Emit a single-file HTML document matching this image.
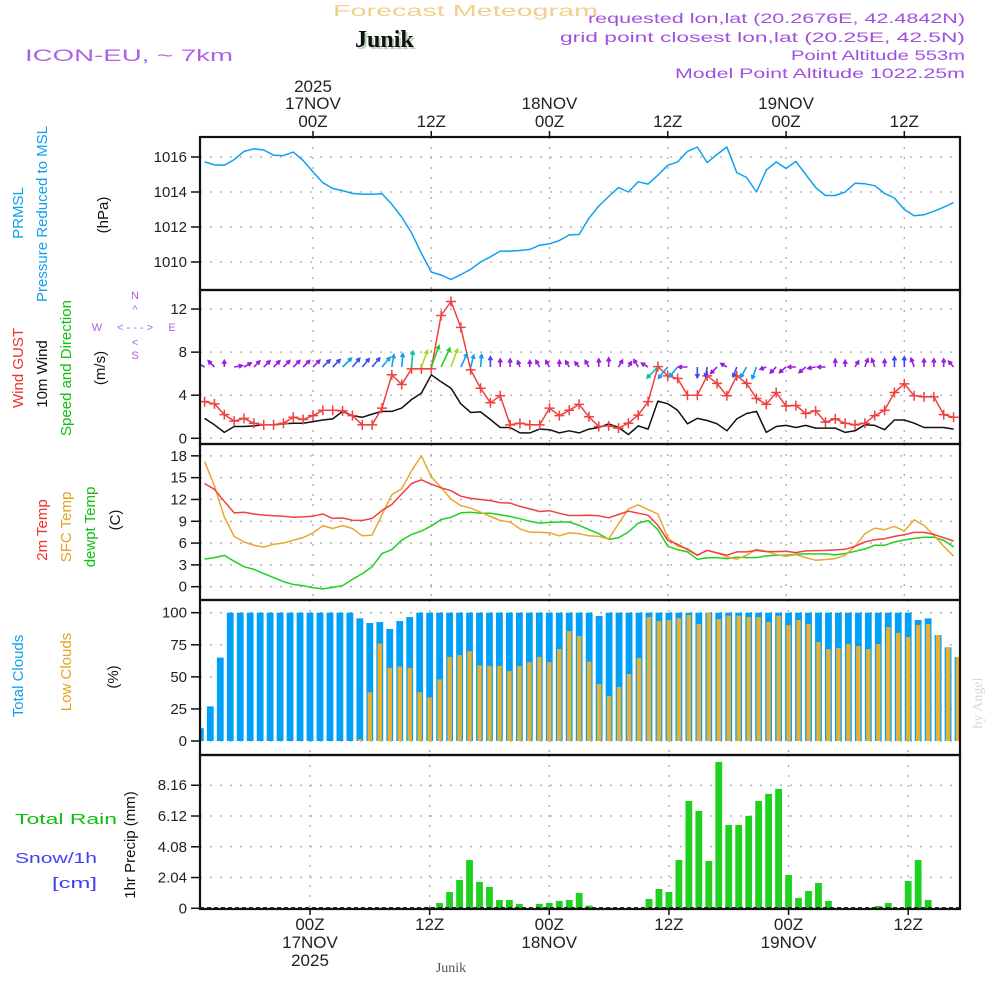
<!DOCTYPE html>
<html><head><meta charset="utf-8"><style>
html,body{margin:0;padding:0;background:#fff;}
svg{display:block;font-family:"Liberation Sans",sans-serif;}
</style></head><body>
<svg id="chart" width="1000" height="1000" viewBox="0 0 1000 1000" xmlns="http://www.w3.org/2000/svg">
<g>
<text x="333" y="16" font-size="16" fill="#f2cf8a" textLength="265" lengthAdjust="spacingAndGlyphs">Forecast Meteogram</text>
<text x="357" y="49" font-size="24" font-weight="bold" font-family="Liberation Serif, serif" fill="#b8d0b8">Junik</text>
<text x="355" y="47" font-size="24" font-weight="bold" font-family="Liberation Serif, serif" fill="#111">Junik</text>
<text x="25" y="61" font-size="17" fill="#b060e8" textLength="208" lengthAdjust="spacingAndGlyphs">ICON-EU, ~ 7km</text>
<text x="588" y="23" font-size="14" fill="#a050e0" textLength="377" lengthAdjust="spacingAndGlyphs">requested lon,lat (20.2676E, 42.4842N)</text>
<text x="560" y="42" font-size="14" fill="#a050e0" textLength="405" lengthAdjust="spacingAndGlyphs">grid point closest lon,lat (20.25E, 42.5N)</text>
<text x="791" y="60" font-size="14" fill="#a050e0" textLength="174" lengthAdjust="spacingAndGlyphs">Point Altitude 553m</text>
<text x="675" y="78" font-size="14" fill="#a050e0" textLength="290" lengthAdjust="spacingAndGlyphs">Model Point Altitude 1022.25m</text>
</g>
<g font-size="15">
<text transform="translate(23,213) rotate(-90)" text-anchor="middle" fill="#10a0f0">PRMSL</text>
<text transform="translate(47,214) rotate(-90)" text-anchor="middle" fill="#10a0f0">Pressure Reduced to MSL</text>
<text transform="translate(108,215) rotate(-90)" text-anchor="middle" fill="#111">(hPa)</text>
<text transform="translate(23,368) rotate(-90)" text-anchor="middle" fill="#f03030">Wind GUST</text>
<text transform="translate(47,374) rotate(-90)" text-anchor="middle" fill="#111">10m Wind</text>
<text transform="translate(71,368) rotate(-90)" text-anchor="middle" fill="#10c010">Speed and Direction</text>
<text transform="translate(105,368) rotate(-90)" text-anchor="middle" fill="#111">(m/s)</text>
<g fill="#b060e8" font-size="11" text-anchor="middle">
<text x="135" y="299">N</text><text x="135" y="313">^</text><text x="135" y="331">&lt; - - - &gt;</text><text x="97" y="331">W</text><text x="172" y="331">E</text><text x="135" y="346">&lt;</text><text x="135" y="359">S</text>
</g>
<text transform="translate(47,530) rotate(-90)" text-anchor="middle" fill="#f03030">2m Temp</text>
<text transform="translate(71,527) rotate(-90)" text-anchor="middle" fill="#e8a020">SFC Temp</text>
<text transform="translate(95,527) rotate(-90)" text-anchor="middle" fill="#10c010">dewpt Temp</text>
<text transform="translate(120,520) rotate(-90)" text-anchor="middle" fill="#111">(C)</text>
<text transform="translate(23,676) rotate(-90)" text-anchor="middle" fill="#10a0f0">Total Clouds</text>
<text transform="translate(71,672) rotate(-90)" text-anchor="middle" fill="#e8a020">Low Clouds</text>
<text transform="translate(118,677) rotate(-90)" text-anchor="middle" fill="#111">(%)</text>
<text x="15" y="824" fill="#10c010" textLength="102" lengthAdjust="spacingAndGlyphs">Total  Rain</text>
<text x="15" y="863" fill="#4040f0" textLength="82" lengthAdjust="spacingAndGlyphs">Snow/1h</text>
<text x="52" y="888" fill="#4040f0" textLength="45" lengthAdjust="spacingAndGlyphs">[cm]</text>
<text transform="translate(135,845) rotate(-90)" text-anchor="middle" fill="#111">1hr Precip (mm)</text>
<text transform="translate(982,703) rotate(-90)" text-anchor="middle" fill="#d8d8d8" font-family="Liberation Serif, serif" font-size="14">by Angel</text>
<text x="451" y="972" text-anchor="middle" fill="#555" font-family="Liberation Serif, serif" font-size="14">Junik</text>
</g>
<g id="grid"></g>
<g id="marks"></g>
<g id="frame"></g>
</svg>
<script>
// hours relative to 00Z 17 Nov 2025, hourly from -11 to 65
const startHour = -11;
const pressure = [1015.72,1015.55,1015.53,1015.85,1016.32,1016.47,1016.4,1016.1,1016.08,1016.28,1015.8,1015.15,1014.53,1014.2,1014.08,1013.92,1013.87,1013.87,1013.9,1013.3,1012.57,1011.66,1010.5,1009.43,1009.25,1009.0,1009.28,1009.58,1010.0,1010.3,1010.62,1010.62,1010.66,1010.72,1010.96,1011.04,1011.23,1011.55,1011.57,1012.5,1013.2,1013.74,1014.25,1014.0,1014.58,1014.45,1014.96,1015.53,1015.72,1016.32,1016.57,1015.68,1016.15,1016.57,1015.1,1014.83,1014.0,1015.25,1015.72,1015.34,1015.75,1015.0,1014.26,1013.8,1013.8,1014.0,1014.5,1014.47,1014.36,1013.92,1013.66,1013.0,1012.64,1012.7,1012.9,1013.13,1013.4];
const gust = [3.4,3.2,2.2,1.6,1.85,1.4,1.25,1.25,1.4,1.95,1.75,2.1,2.6,2.6,2.55,2.1,1.25,1.25,2.8,5.9,5.0,6.45,6.45,6.45,11.4,12.7,10.3,6.35,4.65,3.3,3.95,1.25,1.4,1.25,1.25,2.8,2.1,2.6,3.15,2.0,1.1,1.15,0.95,1.4,2.15,3.4,6.65,5.8,5.55,4.0,4.0,5.8,5.1,3.95,5.8,5.1,3.7,3.15,4.25,3.0,3.05,2.3,2.55,1.5,1.8,1.4,1.25,1.4,2.1,2.6,4.25,5.05,3.95,3.85,3.85,2.2,1.95];
const windSpeed = [1.85,1.25,0.55,1.1,1.1,1.15,1.25,1.25,1.35,1.4,1.4,1.55,1.7,1.8,2.5,2.1,1.95,2.25,2.5,2.5,2.8,3.6,4.2,5.9,5.25,4.65,3.2,2.4,2.45,1.75,1.0,1.0,0.5,0.5,0.85,0.8,0.5,0.7,0.5,0.85,1.0,1.35,1.0,0.35,1.15,0.85,3.45,3.2,2.6,1.35,1.85,1.65,1.35,0.7,1.8,2.3,2.5,0.55,1.1,1.2,1.0,1.2,0.95,0.95,0.95,0.55,0.7,1.25,1.2,0.8,1.7,1.7,1.4,1.0,1.0,1.0,0.85];
const windDir = [300,315,0,80,60,45,45,45,45,45,45,45,45,45,45,40,40,40,40,10,5,5,20,20,25,20,25,15,5,0,0,0,340,0,330,330,0,330,320,330,0,0,30,30,330,300,225,220,220,270,180,190,225,300,200,210,200,250,225,230,270,230,260,270,0,0,30,20,340,0,0,0,340,0,0,0,320];
const temp2m = [14.2,13.4,11.75,10.15,10.25,10.0,9.85,9.75,9.7,9.55,9.6,9.7,10.0,9.4,9.45,9.15,9.1,9.4,10.5,11.3,12.75,14.2,14.7,14.1,13.6,13.2,12.45,12.15,12.0,11.85,11.55,11.5,11.05,10.7,10.35,10.45,10.1,9.8,9.8,9.84,9.75,9.48,9.93,10.39,10.11,9.84,8.43,6.38,5.83,5.1,4.33,5.01,4.65,4.33,4.78,4.78,5.0,4.83,4.83,4.87,4.69,4.92,4.97,5.0,5.06,5.15,5.56,6.15,6.47,6.6,6.92,7.15,7.47,7.47,7.2,6.74,6.29];
const tempSfc = [17.2,13.9,9.6,6.9,6.15,5.7,5.45,5.85,6.0,6.4,6.75,7.4,8.4,8.0,8.4,8.0,7.0,7.1,9.9,12.65,13.45,15.95,18.0,15.1,13.65,12.05,11.15,10.8,10.25,9.65,9.1,8.9,7.95,7.5,7.5,7.4,7.0,7.4,7.3,7.0,6.92,6.56,8.66,10.7,11.25,10.6,10.0,6.74,5.56,5.24,4.33,5.0,4.65,4.1,3.78,4.33,5.15,4.87,4.42,4.19,4.42,4.0,3.64,3.74,3.87,4.33,5.56,7.29,8.06,7.84,8.29,7.65,9.2,8.43,7.06,5.56,4.19];
const dewpt = [3.8,4.0,4.3,3.5,2.75,2.4,1.8,1.25,0.7,0.3,0.15,-0.15,-0.3,-0.1,0.15,1.0,1.8,2.75,4.55,5.1,6.4,7.2,7.65,8.35,9.25,9.55,10.15,10.25,10.1,10.1,9.9,9.65,9.35,9.0,8.75,8.85,8.9,8.9,8.45,7.85,7.29,6.51,6.74,7.52,8.75,9.11,7.84,5.56,5.1,4.78,3.78,3.96,4.0,3.87,4.05,4.0,4.0,4.24,4.33,4.33,4.46,4.51,4.51,4.51,4.37,4.56,4.87,5.19,5.69,5.69,6.15,6.42,6.65,6.79,6.79,6.38,5.47];
const totalClouds = [10,27,65,100,100,100,100,100,100,100,100,100,100,100,100,100,95.6,92,92.7,87.3,93.5,96.6,100,100,100,100,100,100,100,100,100,100,100,100,100,100,100,100,100,100,97.4,100,100,100,100,100,100,100,100,100,100,100,100,100,100,100,100,100,100,100,100,100,100,100,100,100,100,100,100,100,100,100,94.3,95.6,82.6,73,65.5];
const lowClouds = [0,0,0,0,0,0,0,0,0,0,0,0,0,0,0,0,1.5,38,76,57,58,57,38,34,48,65.5,67,70,59,58.5,58.5,54.5,58.5,61.5,65.5,61.5,71.7,85.7,81.8,61.8,44.4,35.1,42.1,52.2,64.7,96.6,93.5,94.3,95.8,98.2,91.2,99.7,95.1,97.7,97.7,96.6,96.6,92.7,97.7,90.4,94.3,91.2,77.1,71.7,72.5,75.6,74,71.7,75.6,88.8,84.2,81,90.4,91.2,82.6,73,65.5];
const precip = [0,0,0,0,0,0,0,0,0,0,0,0,0,0,0,0,0,0,0,0,0,0,0,0.09,0.35,1.08,1.88,3.2,1.75,1.42,0.55,0.55,0.29,0,0.29,0.35,0.49,0.55,1.02,0.18,0,0,0,0,0,0.62,1.28,1.08,3.2,7.12,6.46,3.14,9.71,5.53,5.53,6.13,7.12,7.59,7.92,2.21,0.69,1.15,1.68,0.49,0,0,0,0,0.15,0.35,0,1.81,3.2,0.55,0,0,0];
const pTicks = [1010,1012,1014,1016];
const wTicks = [0,4,8,12];
const tTicks = [0,3,6,9,12,15,18];
const cTicks = [0,25,50,75,100];
const rTicks = ["0","2.04","4.08","6.12","8.16"];
const timeTickHours = [0,12,24,36,48,60];
const timeTickLabels = ["00Z","12Z","00Z","12Z","00Z","12Z"];
const dateLabels = {0:["2025","17NOV"],24:["18NOV"],48:["19NOV"]};

const NS="http://www.w3.org/2000/svg";
const L=200,R=960;
const xt=h=>313+9.855*h;       // line panels
const xb=h=>310+9.97*h;        // bar panels
const yP=v=>157+(1016-v)*17.5;
const yW=v=>438.3-v*10.77;
const yT=v=>586.7-v*7.27;
const yC=v=>741-v*1.283;
const yR=v=>908.3-v*15.08;
function mk(tag,attrs,parent){const e=document.createElementNS(NS,tag);for(const k in attrs)e.setAttribute(k,attrs[k]);(parent||marks).appendChild(e);return e;}
const marks=document.getElementById('marks'),grid=document.getElementById('grid'),frame=document.getElementById('frame');
const panels=[[137,290],[290,444],[444,600],[600,755],[755,909]];

function hgrid(ticks,yf,labels,name){
  ticks.forEach((t,i)=>{const y=yf(parseFloat(t));
    const g=mk('line',{x1:L,x2:R,y1:y,y2:y,stroke:'#aaa','stroke-width':1.3,'stroke-dasharray':'2 8'},grid);
    
    
    const tk=mk('line',{x1:L-9,x2:L,y1:y,y2:y,stroke:'#111','stroke-width':1.5},frame);
    
    
    const tx=mk('text',{x:L-13,y:y+5,'text-anchor':'end','font-size':15,fill:'#222'},frame);
    tx.textContent=labels?labels[i]:t;
    
    
  });
}
hgrid(pTicks,yP,null,'pressure');
hgrid(wTicks,yW,null,'wind');
hgrid(tTicks,yT,null,'temp');
hgrid(cTicks,yC,null,'cloud');
hgrid(rTicks,yR,rTicks,'precip');
timeTickHours.forEach((h,i)=>{
  panels.forEach((p,pi)=>{const x=pi>=3?xb(h):xt(h);
    const g=mk('line',{x1:x,x2:x,y1:p[0],y2:p[1],stroke:'#aaa','stroke-width':1.3,'stroke-dasharray':'2 8'},grid);
    
    });
  const xT=xt(h),xB=xb(h);
  const t1=mk('line',{x1:xT,x2:xT,y1:131,y2:137,stroke:'#111','stroke-width':1.5},frame);
  
  
  const t2=mk('line',{x1:xB,x2:xB,y1:909,y2:915,stroke:'#111','stroke-width':1.5},frame);
  
  
  const a=mk('text',{x:xT,y:127,'text-anchor':'middle','font-size':17,fill:'#222'},frame);a.textContent=timeTickLabels[i];
  
  
  const b=mk('text',{x:xB,y:930,'text-anchor':'middle','font-size':17,fill:'#222'},frame);b.textContent=timeTickLabels[i];
  
  
  if(dateLabels[h]){const d=dateLabels[h];
    const top=d.length==2?[[d[0],92],[d[1],109]]:[[d[0],109]];
    top.forEach(s=>{const e=mk('text',{x:xT,y:s[1],'text-anchor':'middle','font-size':17,fill:'#222'},frame);e.textContent=s[0];
      
      });
    const bot=d.length==2?[[d[1],948],[d[0],966]]:[[d[0],948]];
    bot.forEach(s=>{const e=mk('text',{x:xB,y:s[1],'text-anchor':'middle','font-size':17,fill:'#222'},frame);e.textContent=s[0];
      
      });
  }
});
panels.forEach(p=>{const r=mk('rect',{x:L,y:p[0],width:R-L,height:p[1]-p[0],fill:'none',stroke:'#111','stroke-width':2.2},frame);
  
  });

function line(arr,yf,color,name,w){
  const pts=arr.map((v,i)=>xt(startHour+i).toFixed(1)+','+yf(v).toFixed(1)).join(' ');
  const e=mk('polyline',{points:pts,fill:'none',stroke:color,'stroke-width':w||1.5,'stroke-linejoin':'round'});
  
  
}
const clip=mk('clipPath',{id:'plotclip'});mk('rect',{x:L+1,y:137,width:R-L-2,height:772},clip);
marks.setAttribute('clip-path','url(#plotclip)');

line(pressure,yP,'#10a0f0','pressure-line');
line(windSpeed,yW,'#111','wind-speed-line');
line(gust,yW,'#f04040','gust-line');
gust.forEach((v,i)=>{const x=xt(startHour+i),y=yW(v);
  const e=mk('path',{d:`M${x-5} ${y}H${x+5}M${x} ${y-5}V${y+5}`,stroke:'#f04040','stroke-width':1.5});
  
  });
function wcol(s){return s<1.6?'#9a1ee0':s<2.3?'#3a4cf0':s<3.3?'#10a0f0':s<4.0?'#10c0b0':s<5.0?'#a0e020':'#20d020';}
windDir.forEach((d,i)=>{const x=xt(startHour+i),y=367,s=windSpeed[i];const len=5+s*3;const a=d*Math.PI/180;
  const tx=x+len*Math.sin(a),ty=y-len*Math.cos(a);const hl=4;
  const a1=a+Math.PI-0.5,a2=a+Math.PI+0.5;
  const e=mk('path',{d:`M${x} ${y}L${tx.toFixed(1)} ${ty.toFixed(1)}M${(tx+hl*Math.sin(a1)).toFixed(1)} ${(ty-hl*Math.cos(a1)).toFixed(1)}L${tx.toFixed(1)} ${ty.toFixed(1)}L${(tx+hl*Math.sin(a2)).toFixed(1)} ${(ty-hl*Math.cos(a2)).toFixed(1)}`,stroke:wcol(s),'stroke-width':1.6,fill:'none'});
  
  });
line(dewpt,yT,'#20d020','dewpoint-line');
line(tempSfc,yT,'#e8a830','sfc-temp-line');
line(temp2m,yT,'#f04040','temp-2m-line');
totalClouds.forEach((v,i)=>{const x=xb(startHour+i);
  const e=mk('rect',{x:x-3.4,y:yC(v),width:6.8,height:yC(0)-yC(v),fill:'#00a0f8'});
  
  });
lowClouds.forEach((v,i)=>{if(v<=0)return;const x=xb(startHour+i);
  const e=mk('rect',{x:x-2.2,y:yC(v),width:4.4,height:yC(0)-yC(v),fill:'#e8b030'});
  
  });
precip.forEach((v,i)=>{if(v<=0)return;const x=xb(startHour+i);
  const e=mk('rect',{x:x-3.4,y:yR(v),width:6.8,height:yR(0)-yR(v),fill:'#20d020'});
  
  });
const z=mk('line',{x1:L,x2:R,y1:yR(0)-0.5,y2:yR(0)-0.5,stroke:'#111','stroke-width':1.3,'stroke-dasharray':'4 3'});


</script>
</body></html>
